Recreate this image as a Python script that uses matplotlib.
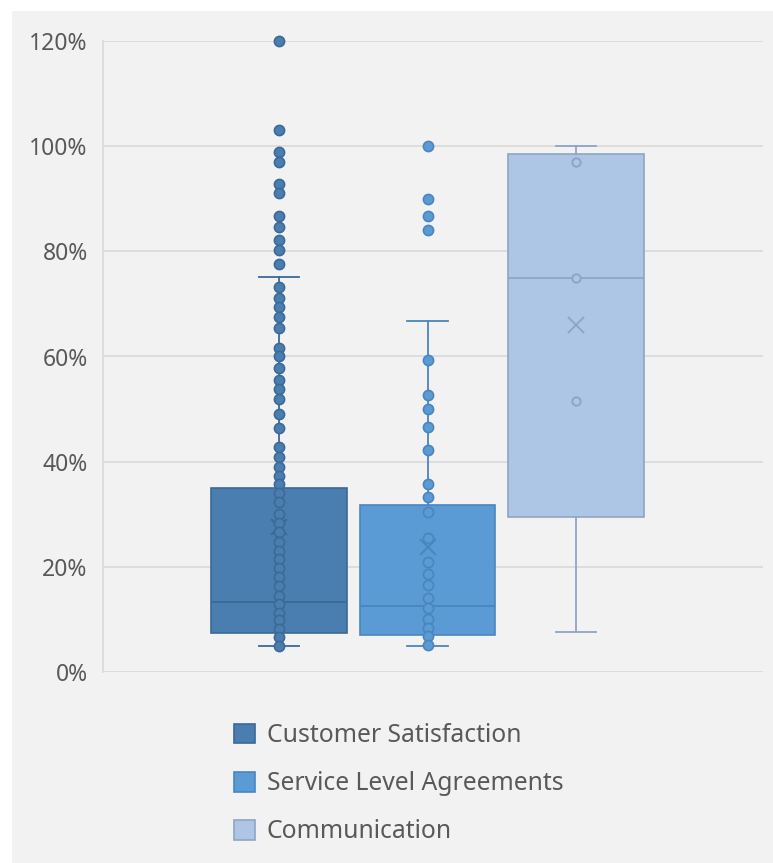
import matplotlib
matplotlib.use("Agg")
import matplotlib.pyplot as plt
from matplotlib.patches import Patch, Rectangle
from matplotlib.ticker import FuncFormatter

# Box statistics per category (percent)
categories = ["Customer Satisfaction", "Service Level Agreements", "Communication"]
q1 = [7.5, 7.0, 29.5]
medians = [13.3, 12.6, 75.0]
q3 = [34.9, 31.7, 98.5]
whisker_low = [5.0, 5.0, 7.7]
whisker_high = [75.1, 66.7, 100.0]
means = [27.5, 23.8, 66.0]

# Individual data points drawn over each box (percent)
points_cs = [120, 103, 98.8, 96.9, 92.9, 91.1, 86.7, 84.7, 82.2, 80.2, 77.6,
             73.3, 71.1, 69.4, 67.5, 65.4, 61.6, 60.1, 57.9, 55.5, 53.8, 52.0,
             49.0, 46.4, 42.7, 40.9, 39.0, 37.3, 35.8, 34.0, 32.3, 30.0, 28.3,
             26.6, 24.7, 23.0, 21.4, 19.8, 18.1, 16.3, 14.5, 12.9, 11.3, 9.8,
             8.2, 6.7, 5.0]
points_sla = [100, 89.9, 86.8, 84.0, 59.3, 52.6, 50.0, 46.6, 42.3, 35.7, 33.3,
              30.5, 25.4, 21.0, 18.6, 16.5, 14.1, 12.2, 10.1, 8.4, 6.9, 5.1]
points_comm = [97.0, 75.0, 51.6]

fill_colors = ["#4a7eb0", "#5b9bd5", "#adc6e5"]
edge_colors = ["#3c6996", "#4a85bd", "#8ea5c4"]

FONT = "Noto Sans"
TEXT_COLOR = "#595959"

fig = plt.figure(figsize=(7.73, 8.63), dpi=100, facecolor="white")
fig.patches.append(Rectangle((12 / 773, 0), 1, (863 - 11) / 863,
                             transform=fig.transFigure, facecolor="#f2f2f2",
                             edgecolor="none", zorder=-10))

ax = fig.add_axes([103 / 773, (863 - 672) / 863, 660 / 773, 631 / 863])
ax.set_facecolor("none")

positions = [1, 2, 3]
stats = []
for i in range(3):
    stats.append({"med": medians[i], "q1": q1[i], "q3": q3[i],
                  "whislo": whisker_low[i], "whishi": whisker_high[i],
                  "mean": means[i], "fliers": []})

for i, st in enumerate(stats):
    ec = edge_colors[i]
    ax.bxp([st], positions=[positions[i]], widths=0.91, patch_artist=True,
           showmeans=True, showfliers=False,
           boxprops=dict(facecolor=fill_colors[i], edgecolor=ec, linewidth=1.2),
           medianprops=dict(color=ec, linewidth=1.3),
           whiskerprops=dict(color=ec, linewidth=1.3),
           capprops=dict(color=ec, linewidth=1.3),
           capwidths=0.27,
           meanprops=dict(marker="x", markeredgecolor=ec, markersize=11,
                          markeredgewidth=1.4),
           zorder=2)

all_points = [points_cs, points_sla, points_comm]
for i, pts in enumerate(all_points):
    if i < 2:
        ax.plot([positions[i]] * len(pts), pts, "o", ls="none",
                markersize=7.3, markerfacecolor=fill_colors[i],
                markeredgecolor=edge_colors[i], markeredgewidth=1.2,
                zorder=3, clip_on=False)
    else:
        ax.plot([positions[i]] * len(pts), pts, "o", ls="none",
                markersize=6, markerfacecolor=fill_colors[i],
                markeredgecolor=edge_colors[i], markeredgewidth=1.4,
                zorder=3, clip_on=False)

ax.set_xlim(-0.185, 4.259)
ax.set_ylim(0, 120)
ax.set_yticks(range(0, 121, 20))
ax.yaxis.set_major_formatter(FuncFormatter(lambda v, p: f"{int(v)}%"))
ax.set_xticks([])
ax.grid(axis="y", color="#d9d9d9", linewidth=1.2, zorder=0)
ax.set_axisbelow(True)
for s in ["top", "right", "bottom"]:
    ax.spines[s].set_visible(False)
ax.spines["left"].set_color("#d9d9d9")
ax.spines["left"].set_linewidth(1.2)
ax.tick_params(axis="y", length=0, pad=11, labelsize=16.5, labelcolor=TEXT_COLOR)
for lbl in ax.get_yticklabels():
    lbl.set_fontfamily(FONT)

handles = [Patch(facecolor=fill_colors[i], edgecolor=edge_colors[i], linewidth=1.2)
           for i in range(3)]
fig.legend(handles, categories, loc="upper left",
           bbox_to_anchor=(234 / 773, 1 - 723 / 863), frameon=False,
           prop={"family": FONT, "size": 17.8}, labelcolor=TEXT_COLOR,
           handlelength=0.85, handleheight=0.85, handletextpad=0.47,
           labelspacing=0.94, borderpad=0, borderaxespad=0)

fig.savefig("out.png", dpi=100, facecolor=fig.get_facecolor())
